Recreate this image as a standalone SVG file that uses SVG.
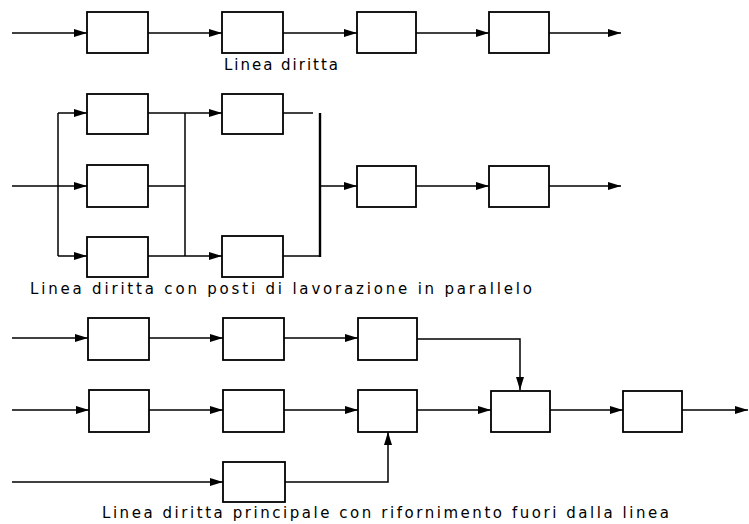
<svg xmlns="http://www.w3.org/2000/svg" width="749" height="524" viewBox="0 0 749 524">
<style>
.box{fill:#fff;stroke:#000;stroke-width:1.8}
.ln{fill:none;stroke:#000;stroke-width:1.5}
.bar{fill:none;stroke:#000;stroke-width:2.4}
.lbl{font-family:"DejaVu Sans",sans-serif;font-size:15px;fill:#000}
</style>
<defs>
<marker id="ah" markerUnits="userSpaceOnUse" viewBox="0 0 13 8" refX="13" refY="4" markerWidth="13" markerHeight="8" orient="auto">
<path d="M0,0 L13,4 L0,8 z" fill="#000"/>
</marker>
</defs>
<rect width="749" height="524" fill="#fff"/>
<g id="connectors">
<path class="ln" d="M12,33 H87" marker-end="url(#ah)"/>
<path class="ln" d="M148,33 H222" marker-end="url(#ah)"/>
<path class="ln" d="M283,33 H357" marker-end="url(#ah)"/>
<path class="ln" d="M416,33 H489" marker-end="url(#ah)"/>
<path class="ln" d="M549,33 H621" marker-end="url(#ah)"/>

<path class="ln" d="M12,186 H87" marker-end="url(#ah)"/>
<path class="ln" d="M58,113 V256"/>
<path class="ln" d="M58,113 H87" marker-end="url(#ah)"/>
<path class="ln" d="M58,256 H87" marker-end="url(#ah)"/>
<path class="ln" d="M148,113 H185"/>
<path class="ln" d="M148,186 H185"/>
<path class="ln" d="M148,256 H185"/>
<path class="ln" d="M185,113 V256"/>
<path class="ln" d="M185,113 H222" marker-end="url(#ah)"/>
<path class="ln" d="M185,256 H222" marker-end="url(#ah)"/>
<path class="ln" d="M283,113 H313"/>
<path class="ln" d="M283,256 H320"/>
<path class="bar" d="M320,113 V257"/>
<path class="ln" d="M320,186 H357" marker-end="url(#ah)"/>
<path class="ln" d="M416,186 H489" marker-end="url(#ah)"/>
<path class="ln" d="M549,186 H621" marker-end="url(#ah)"/>

<path class="ln" d="M12,338 H88" marker-end="url(#ah)"/>
<path class="ln" d="M149,338 H223" marker-end="url(#ah)"/>
<path class="ln" d="M284,338 H358" marker-end="url(#ah)"/>
<path class="ln" d="M417,339 H520 V390" marker-end="url(#ah)"/>
<path class="ln" d="M12,410 H89" marker-end="url(#ah)"/>
<path class="ln" d="M149,410 H223" marker-end="url(#ah)"/>
<path class="ln" d="M284,410 H358" marker-end="url(#ah)"/>
<path class="ln" d="M417,410 H491" marker-end="url(#ah)"/>
<path class="ln" d="M550,410 H623" marker-end="url(#ah)"/>
<path class="ln" d="M682,410 H748" marker-end="url(#ah)"/>
<path class="ln" d="M12,482 H223" marker-end="url(#ah)"/>
<path class="ln" d="M285,482 H388 V432" marker-end="url(#ah)"/>
</g>

<g id="t1"><rect class="box" x="87" y="12" width="61" height="41"/></g>
<g id="t2"><rect class="box" x="222" y="12" width="61" height="41"/></g>
<g id="t3"><rect class="box" x="357" y="12" width="59" height="41"/></g>
<g id="t4"><rect class="box" x="489" y="12" width="60" height="41"/></g>

<g id="p1"><rect class="box" x="87" y="94" width="61" height="40"/></g>
<g id="p2"><rect class="box" x="87" y="165" width="61" height="42"/></g>
<g id="p3"><rect class="box" x="87" y="237" width="61" height="40"/></g>
<g id="p4"><rect class="box" x="222" y="94" width="61" height="40"/></g>
<g id="p5"><rect class="box" x="222" y="236" width="61" height="41"/></g>
<g id="p6"><rect class="box" x="357" y="166" width="59" height="41"/></g>
<g id="p7"><rect class="box" x="489" y="166" width="60" height="41"/></g>

<g id="b1"><rect class="box" x="88" y="318" width="61" height="42"/></g>
<g id="b2"><rect class="box" x="223" y="318" width="61" height="42"/></g>
<g id="b3"><rect class="box" x="358" y="318" width="59" height="42"/></g>
<g id="b4"><rect class="box" x="89" y="390" width="60" height="42"/></g>
<g id="b5"><rect class="box" x="223" y="390" width="61" height="42"/></g>
<g id="b6"><rect class="box" x="358" y="390" width="59" height="42"/></g>
<g id="b7"><rect class="box" x="491" y="391" width="59" height="41"/></g>
<g id="b8"><rect class="box" x="623" y="391" width="59" height="41"/></g>
<g id="b9"><rect class="box" x="223" y="462" width="62" height="40"/></g>

<g id="labels">
<text class="lbl" x="224" y="70" textLength="114" lengthAdjust="spacing">Linea diritta</text>
<text class="lbl" x="30" y="294" textLength="502" lengthAdjust="spacing">Linea diritta con posti di lavorazione in parallelo</text>
<text class="lbl" x="102" y="518" textLength="567" lengthAdjust="spacing">Linea diritta principale con rifornimento fuori dalla linea</text>
</g>
</svg>
